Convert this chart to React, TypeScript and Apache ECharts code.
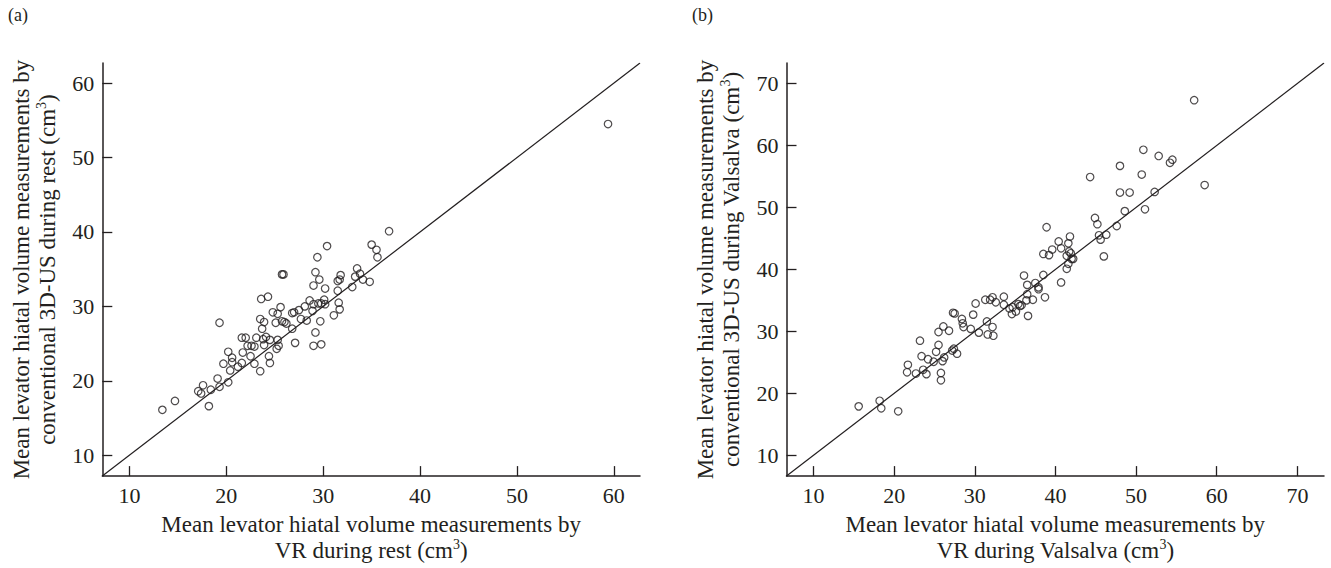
import React, { useEffect, useRef } from "react";
import * as echarts from "echarts";

// ---------- data ----------
const restVR = [
  13.4, 14.7, 17.1, 17.4, 17.6, 18.2, 18.4, 19.1, 19.3, 19.3,
  20.2, 20.2, 19.7, 20.4, 20.6, 20.6, 21.2, 21.6, 21.7, 21.6,
  22.0, 22.2, 22.5, 22.6, 22.9, 22.9, 23.1, 23.5, 23.6, 23.7,
  23.5, 23.8, 23.9, 23.9, 24.1, 24.3, 24.4, 24.5, 24.5, 24.8,
  25.1, 25.3, 25.3, 25.2, 25.4, 25.6, 25.75, 25.9, 25.75, 26.0,
  26.2, 26.8, 26.8, 27.0, 27.1, 27.5, 27.7, 28.1, 28.3, 28.6,
  28.9, 29.0, 29.0, 29.0, 29.2, 29.2, 29.4, 29.5, 29.6, 29.7,
  29.8, 29.8, 30.1, 30.2, 30.2, 30.4, 31.1, 31.5, 31.5, 31.7,
  31.6, 31.7, 31.8, 33.0, 33.3, 33.5, 33.8, 34.1, 34.8, 35.0,
  35.5, 35.6, 36.8, 59.4,
];
const restUS = [
  16.1, 17.3, 18.6, 18.3, 19.4, 16.6, 18.8, 20.3, 19.2, 27.8,
  19.8, 23.9, 22.3, 21.4, 23.1, 22.5, 21.9, 22.4, 23.8, 25.8,
  25.8, 24.7, 23.3, 24.7, 22.3, 24.6, 25.8, 28.3, 31.0, 27.0,
  21.3, 25.6, 27.9, 24.8, 25.9, 31.3, 23.3, 25.5, 22.4, 29.2,
  27.8, 25.5, 29.0, 24.3, 24.7, 29.9, 34.3, 34.3, 28.0, 27.9,
  27.7, 27.0, 29.1, 29.2, 25.1, 29.5, 28.3, 30.0, 28.1, 30.8,
  29.4, 32.8, 30.3, 24.7, 34.6, 26.5, 36.6, 30.4, 33.6, 28.0,
  30.4, 24.9, 30.9, 32.4, 30.3, 38.1, 28.8, 32.1, 33.4, 33.6,
  30.5, 29.6, 34.2, 32.6, 34.0, 35.1, 34.4, 33.6, 33.3, 38.3,
  37.6, 36.6, 40.1, 54.5,
];

const valsalvaVR = [
  15.6, 18.2, 18.4, 20.5, 21.7, 21.6, 22.7, 23.2, 23.4, 23.6,
  24.0, 24.2, 24.9, 25.2, 25.5, 25.5, 25.8, 25.8, 26.0, 26.1,
  26.2, 26.8, 27.2, 27.3, 27.5, 27.4, 27.8, 28.4, 28.5, 28.6,
  29.5, 29.8, 30.1, 30.5, 31.3, 31.5, 31.6, 31.9, 32.2, 32.2,
  32.3, 32.6, 33.6, 33.6, 34.3, 34.6, 34.7, 35.1, 35.4, 35.6,
  35.8, 36.1, 36.4, 36.5, 36.5, 36.6, 37.2, 37.5, 37.9, 37.9,
  38.5, 38.5, 38.7, 38.9, 39.2, 39.6, 40.4, 40.7, 40.7, 41.4,
  41.4, 41.6, 41.6, 41.7, 41.8, 41.9, 42.0, 42.2, 44.3, 44.9,
  45.2, 45.4, 45.6, 46.0, 46.3, 47.6, 48.0, 48.0, 48.6, 49.2,
  50.7, 50.9, 51.1, 52.3, 52.8, 54.2, 54.5, 57.2, 58.5,
];
const valsalvaUS = [
  17.9, 18.8, 17.6, 17.1, 24.6, 23.4, 23.2, 28.5, 26.0, 23.8,
  23.1, 25.5, 25.1, 26.7, 29.9, 27.8, 23.3, 22.1, 25.2, 30.8,
  25.8, 30.1, 26.9, 33.0, 32.9, 27.2, 26.4, 32.0, 31.3, 30.7,
  30.4, 32.7, 34.5, 29.8, 35.1, 31.6, 29.5, 35.1, 35.5, 30.7,
  29.3, 34.7, 35.6, 34.3, 33.7, 32.8, 33.9, 33.2, 34.4, 34.1,
  34.2, 39.0, 35.0, 37.5, 36.0, 32.5, 35.1, 37.8, 37.1, 36.8,
  42.5, 39.1, 35.5, 46.8, 42.3, 43.2, 44.5, 37.9, 43.4, 40.1,
  42.2, 44.2, 40.9, 42.9, 45.3, 42.6, 41.7, 41.7, 54.9, 48.3,
  47.3, 45.5, 44.8, 42.1, 45.6, 47.0, 56.7, 52.4, 49.4, 52.4,
  55.3, 59.3, 49.7, 52.5, 58.3, 57.2, 57.7, 67.3, 53.6,
];

const restRange = [7.2, 62.7];
const valsalvaRange = [6.65, 73.3];

const restXTicks = [10, 20, 30, 40, 50, 60];
const restYTicks = [10, 20, 30, 40, 50, 60];
const valsalvaXTicks = [10, 20, 30, 40, 50, 60, 70];
const valsalvaYTicks = [10, 20, 30, 40, 50, 60, 70];

const restXTitle = "Mean levator hiatal volume measurements by\nVR during rest (cm{sup|3})";
const restYTitle = "Mean levator hiatal volume measurements by\nconventional 3D-US during rest (cm{sup|3})";
const valsalvaXTitle = "Mean levator hiatal volume measurements by\nVR during Valsalva (cm{sup|3})";
const valsalvaYTitle = "Mean levator hiatal volume measurements by\nconventional 3D-US during Valsalva (cm{sup|3})";

// ---------- style ----------
const FONT = '"Liberation Serif", "Times New Roman", serif';
const INK = "#231f20";

const zip = (a: number[], b: number[]) => a.map((v, i) => [v, b[i]]);

const nameStyle = {
  fontFamily: FONT,
  fontSize: 23,
  lineHeight: 26,
  color: INK,
  rich: {
    sup: { fontFamily: FONT, fontSize: 14, lineHeight: 16, verticalAlign: "top", color: INK },
  },
};

function makeAxis(
  kind: "x" | "y",
  gridIndex: number,
  range: number[],
  ticks: number[],
  name: string
) {
  return {
    type: "value",
    gridIndex,
    min: range[0],
    max: range[1],
    name,
    nameLocation: "middle",
    nameGap: kind === "x" ? 34 : 42,
    nameTextStyle: nameStyle,
    axisLine: { show: true, onZero: false, lineStyle: { color: INK, width: 1.5 } },
    axisTick: {
      show: true,
      inside: true,
      length: 10,
      customValues: ticks,
      lineStyle: { color: INK, width: 1.3 },
    },
    axisLabel: {
      show: true,
      customValues: ticks,
      margin: kind === "x" ? 8 : 8,
      fontFamily: FONT,
      fontSize: 22,
      color: INK,
    },
    splitLine: { show: false },
  };
}

function scatter(idx: number, data: number[][]) {
  return {
    type: "scatter",
    xAxisIndex: idx,
    yAxisIndex: idx,
    symbol: "circle",
    symbolSize: 7.5,
    silent: true,
    z: 3,
    itemStyle: { color: "rgba(0,0,0,0)", borderColor: INK, borderWidth: 1.2 },
    data,
  };
}

function identity(idx: number, range: number[]) {
  return {
    type: "line",
    xAxisIndex: idx,
    yAxisIndex: idx,
    symbol: "none",
    silent: true,
    z: 2,
    lineStyle: { color: INK, width: 1.2 },
    data: [
      [range[0], range[0]],
      [range[1], range[1]],
    ],
  };
}

export default function App() {
  const ref = useRef<HTMLDivElement>(null);

  useEffect(() => {
    if (!ref.current) return;
    const chart = echarts.init(ref.current, null, { renderer: "svg" });
    const option = {
      animation: false,
      backgroundColor: "#ffffff",
      graphic: [
        {
          type: "text",
          left: 8,
          top: 6,
          style: { text: "(a)", fontFamily: FONT, fontSize: 18, fill: INK },
        },
        {
          type: "text",
          left: 692,
          top: 6,
          style: { text: "(b)", fontFamily: FONT, fontSize: 18, fill: INK },
        },
      ],
      grid: [
        { left: 102.3, top: 63, width: 537.7, height: 415.3, containLabel: false },
        { left: 786.5, top: 63, width: 537.5, height: 415.3, containLabel: false },
      ],
      xAxis: [
        makeAxis("x", 0, restRange, restXTicks, restXTitle),
        makeAxis("x", 1, valsalvaRange, valsalvaXTicks, valsalvaXTitle),
      ],
      yAxis: [
        makeAxis("y", 0, restRange, restYTicks, restYTitle),
        makeAxis("y", 1, valsalvaRange, valsalvaYTicks, valsalvaYTitle),
      ],
      series: [
        identity(0, restRange),
        scatter(0, zip(restVR, restUS)),
        identity(1, valsalvaRange),
        scatter(1, zip(valsalvaVR, valsalvaUS)),
      ],
    };
    chart.setOption(option as any);
    return () => chart.dispose();
  }, []);

  return (
    <div
      ref={ref}
      style={{ position: "absolute", left: 0, top: 0, width: 1331, height: 568, background: "#fff" }}
    />
  );
}
